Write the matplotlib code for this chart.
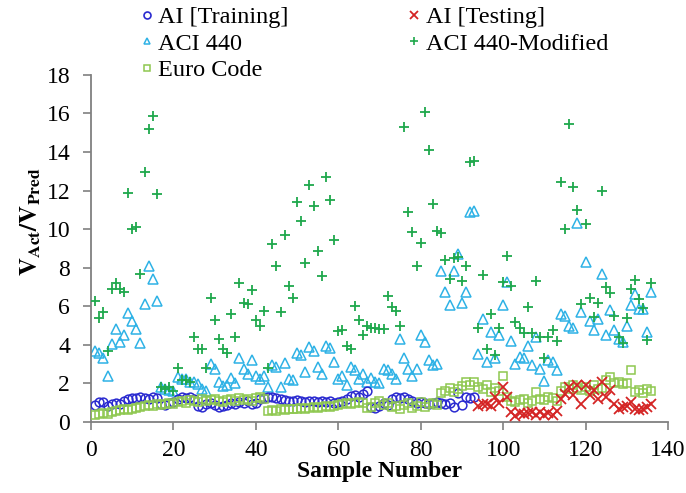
import numpy as np
import matplotlib
matplotlib.use("Agg")
import matplotlib.pyplot as plt
from matplotlib.lines import Line2D

plt.rcParams['font.family'] = ['Liberation Serif', 'DejaVu Serif']
plt.rcParams['mathtext.fontset'] = 'stix'

ai_training = [0.9, 1.05, 1.05, 0.85, 0.95, 1.0, 0.95, 1.1,
               1.2, 1.25, 1.25, 1.3, 1.25, 1.2, 1.3, 1.25,
               0.95, 0.9, 1.0, 1.05,
               1.2, 1.3, 1.25, 1.3, 1.2,
               0.85, 0.8, 0.95, 1.0, 0.9,
               0.8, 0.85, 0.9, 1.0, 0.95, 1.05, 1.0, 1.1, 0.95, 1.0,
               1.2, 1.25, 1.3, 1.3, 1.25, 1.2, 1.15,
               1.1, 1.1, 1.15, 1.1, 1.05, 1.1, 1.1, 1.05, 1.1, 1.05, 1.1, 1.0, 1.05,
               1.1, 1.2, 1.35, 1.4, 1.3, 1.45,
               1.6,
               0.8, 0.75, 0.85, 1.0, 0.9,
               1.2, 1.3, 1.25, 1.3, 1.2, 1.1,
               1.0, 1.05, 1.0, 0.95, 1.0, 1.05, 1.0, 0.95, 1.0,
               0.8, 1.5, 0.9, 1.3, 1.25, 1.3]

ai_testing = [0.85, 0.95, 0.95, 0.85, 1.3, 1.0, 1.8, 1.3,
              0.5, 0.3, 0.45, 0.4, 0.45, 0.5, 0.35, 0.5, 0.35, 0.45, 0.35, 0.55,
              1.2, 1.45, 1.8, 1.4, 1.9, 0.95, 1.9, 1.4, 1.65,
              1.2, 2.05, 1.3, 1.65, 0.95, 0.7, 0.8, 0.85, 1.05, 0.7, 0.6, 0.7, 0.8, 0.95]

aci440 = [3.7, 3.6, 3.3, 2.4, 4.05, 4.8, 4.15, 4.5, 5.65, 5.25, 4.8, 4.1, 6.1, 8.1, 7.4, 6.3,
          1.8, 1.7, 1.65, 1.6, 2.35, 2.25, 2.25, 2.1, 2.05, 1.95, 1.7, 1.6, 3.0, 2.75,
          2.05, 1.85, 1.9, 2.3, 2.0, 3.3, 2.75, 2.5, 3.2, 2.4, 2.25, 2.4, 1.8, 2.95, 2.85,
          1.8, 3.05, 2.25, 2.2, 3.6, 3.5, 2.6, 3.9, 3.7, 2.85, 2.5, 3.95, 3.85, 3.1, 2.25,
          2.4, 1.9, 2.85, 2.7, 2.25, 2.5, 2.05, 2.3, 2.05, 2.0, 2.75, 2.7, 2.5, 2.25, 4.3,
          3.3, 2.75, 2.4, 2.75, 4.5, 4.15, 3.2, 2.95, 3.0, 7.85, 6.75, 6.05, 7.85, 8.7, 6.15,
          6.75, 10.9, 10.95, 3.55, 5.35, 3.1, 4.65, 3.3, 4.5, 6.05, 7.25, 4.2, 3.0, 3.35, 3.3,
          3.95, 2.95, 4.4, 2.75, 2.15, 3.2, 3.1, 2.7, 5.6, 5.5, 5.0, 4.85, 10.3, 5.7, 8.3,
          5.25, 4.75, 5.35, 7.7, 4.5, 5.8, 4.75, 4.3, 4.15, 5.0, 6.05, 6.65, 5.85, 5.85, 4.65, 6.75]

aci440_mod = [6.3, 5.4, 5.7, 3.7, 6.9, 7.2, 6.9, 6.75, 11.9, 10.0, 10.1, 7.7, 12.95, 15.2, 15.85, 11.8,
              1.8, 1.7, 1.8, 1.6, 2.8, 2.2, 2.2, 2.1, 4.4, 3.8, 3.8, 2.8, 6.45, 5.3,
              4.3, 3.8, 3.6, 5.6, 4.4, 7.2, 6.15, 6.1, 6.85, 5.3, 5.0, 5.75, 2.8, 9.25, 8.1,
              5.7, 9.7, 7.05, 6.45, 11.4, 10.4, 8.25, 12.3, 11.2, 8.85, 7.55, 12.7, 11.5, 9.45, 4.7,
              4.75, 3.95, 3.8, 6.0, 5.3, 4.5, 5.0, 4.9, 4.85, 4.8, 4.8, 6.55, 5.95, 5.75, 5.0,
              15.3, 10.9, 9.85, 8.1, 9.3, 16.1, 14.1, 11.3, 9.9, 9.8, 8.4, 7.4, 8.5, 8.55, 7.3,
              8.1, 13.5, 13.55, 4.9, 7.6, 3.8, 5.6, 3.45, 4.85, 7.25, 8.6, 7.05, 5.2, 4.9, 4.6,
              5.95, 4.6, 7.3, 4.4, 3.3, 4.4, 4.75, 4.2, 12.45, 10.0, 15.45, 12.2, 11.0, 6.1, 10.25,
              6.45, 5.45, 6.15, 12.0, 7.0, 6.7, 5.5, 4.4, 4.1, 5.4, 6.9, 7.35, 6.4, 5.9, 4.25, 7.2]

euro_code = [0.35, 0.4, 0.45, 0.4,
             0.5, 0.55, 0.6, 0.65, 0.6, 0.7,
             0.75, 0.8, 0.85, 0.9, 0.85, 0.95,
             0.9, 0.95, 1.0, 0.95,
             1.05, 1.1, 1.0, 1.15, 1.1, 1.05, 1.2, 1.1, 1.15, 1.2,
             1.1, 1.05, 1.15, 1.2, 1.1, 1.25, 1.15, 1.2, 1.1, 1.25, 1.3, 1.2,
             0.55, 0.6, 0.55, 0.65, 0.6, 0.7, 0.65, 0.7, 0.75, 0.7, 0.75, 0.8, 0.75, 0.8, 0.85, 0.8, 0.85, 0.9,
             0.95, 1.0, 0.95, 1.0, 1.05, 1.0,
             0.75, 0.8, 1.0, 1.1, 0.9, 1.0,
             0.8, 0.85, 0.7, 0.9, 1.0, 0.75, 0.85, 1.05, 0.8, 0.95, 1.0, 0.9,
             1.5, 1.6, 1.75, 1.55, 1.7, 1.85, 2.05, 1.9, 2.1,
             1.8, 1.7, 1.9, 1.55, 1.75, 1.6, 2.4, 1.3,
             1.1, 1.05, 1.15, 1.2, 1.0, 1.1, 1.55, 1.2, 1.15, 1.3, 1.25, 1.1,
             1.6, 1.8, 1.7, 1.9, 1.75, 1.65, 1.8, 1.6, 1.9, 1.7, 1.75,
             2.2, 2.35, 2.0, 2.1, 1.95, 2.0, 2.7, 1.55, 1.65, 1.5, 1.7, 1.6]

samples_all = np.arange(1, len(aci440) + 1)
samples_train = np.arange(1, len(ai_training) + 1)
samples_test = np.arange(len(ai_training) + 1, len(ai_training) + len(ai_testing) + 1)

x_ticks = [0, 20, 40, 60, 80, 100, 120, 140]
y_ticks = [0, 2, 4, 6, 8, 10, 12, 14, 16, 18]

c_train = '#2a2ad0'
c_test = '#d42424'
c_aci = '#2eb2e6'
c_mod = '#1fa84c'
c_euro = '#8ec850'

fig = plt.figure(figsize=(6.86, 4.93), dpi=100)
ax = fig.add_axes([0.1327, 0.144, 0.841, 0.704])

ax.plot(samples_all, aci440, linestyle='none', marker='^', ms=7.5, mfc='none',
        mec=c_aci, mew=1.1, zorder=2)
ax.plot(samples_all, aci440_mod, linestyle='none', marker='+', ms=7.5, mec=c_mod,
        mew=1.3, zorder=3)
ax.plot(samples_train, ai_training, linestyle='none', marker='o', ms=6.3, mfc='none',
        mec=c_train, mew=1.1, zorder=3)
ax.plot(samples_all, euro_code, linestyle='none', marker='s', ms=6.0, mfc='none',
        mec=c_euro, mew=1.1, zorder=4)
ax.plot(samples_test, ai_testing, linestyle='none', marker='x', ms=7.5, mec=c_test,
        mew=1.3, zorder=5)

ax.set_xlim(0, 140)
ax.set_ylim(0, 18)
ax.set_xticks(x_ticks)
ax.set_yticks(y_ticks)
ax.tick_params(axis='both', direction='out', length=6, width=1.2, color='#808080',
               labelsize=17)
ax.tick_params(axis='y', pad=9)
ax.tick_params(axis='x', pad=7)
for s in ['top', 'right']:
    ax.spines[s].set_visible(False)
for s in ['left', 'bottom']:
    ax.spines[s].set_color('#808080')
    ax.spines[s].set_linewidth(1.3)

ax.set_xlabel('Sample Number', fontsize=17, fontweight='bold', labelpad=0)
ax.set_ylabel(r'$\mathbf{V}_{\mathbf{Act}}\mathbf{/V}_{\mathbf{Pred}}$', fontsize=18)
ax.yaxis.set_label_coords(-0.083, 0.578)

handles = [
    Line2D([], [], linestyle='none', marker='o', ms=5, mfc='none', mec=c_train, mew=1.2),
    Line2D([], [], linestyle='none', marker='^', ms=5, mfc='none', mec=c_aci, mew=1.1),
    Line2D([], [], linestyle='none', marker='s', ms=5, mfc='none', mec=c_euro, mew=1.1),
    Line2D([], [], linestyle='none', marker='x', ms=5.5, mec=c_test, mew=1.3),
    Line2D([], [], linestyle='none', marker='+', ms=6, mec=c_mod, mew=1.2),
]
labels = ['AI [Training]', 'ACI 440', 'Euro Code', 'AI [Testing]', 'ACI 440-Modified']
fig.legend(handles, labels, ncol=2, loc='upper left', bbox_to_anchor=(0.1936, 1.007),
           frameon=False, fontsize=17.5, handlelength=0.35, handletextpad=0.29,
           columnspacing=5.0, labelspacing=0.18, borderaxespad=0)

fig.savefig('out.png', dpi=100)
